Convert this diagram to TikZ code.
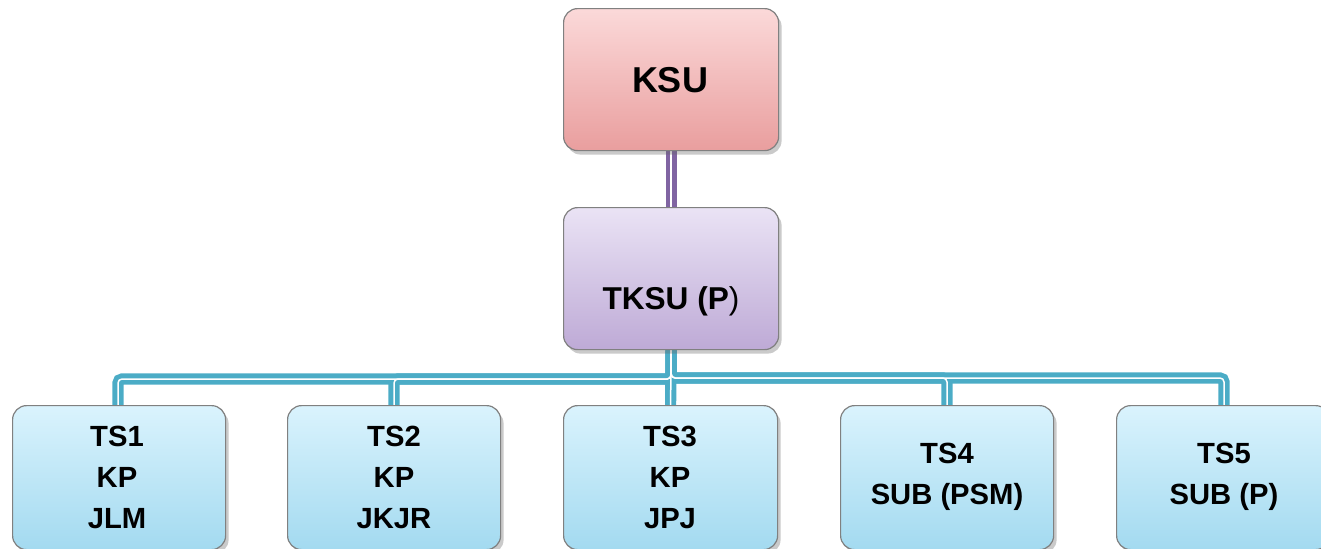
\documentclass[tikz,border=0pt]{standalone}
\usepackage{fontspec}
\setmainfont{Liberation Sans}
\usetikzlibrary{shadows,backgrounds}
\definecolor{bord}{HTML}{808080}
\definecolor{redtop}{HTML}{FBD9D9}
\definecolor{redbot}{HTML}{E99E9E}
\definecolor{purtop}{HTML}{EAE3F5}
\definecolor{purbot}{HTML}{BEAAD6}
\definecolor{bluetop}{HTML}{DAF3FD}
\definecolor{bluebot}{HTML}{A3DAF0}
\definecolor{linkblue}{HTML}{4BACC6}
\definecolor{linkpur}{HTML}{8064A2}
\tikzset{
  box/.style={draw=bord, line width=0.6pt, rounded corners=7pt, minimum width=107pt, minimum height=71pt,
    drop shadow={shadow xshift=1.5pt, shadow yshift=-2pt, opacity=0.35, fill=black!60}},
  redbox/.style={box, top color=redtop, bottom color=redbot},
  purbox/.style={box, top color=purtop, bottom color=purbot},
  bluebox/.style={box, top color=bluetop, bottom color=bluebot},
  lbl/.style={font=\bfseries\fontsize{14.6}{20.5}\selectfont, align=center},
  link/.style={draw=linkblue, line width=5.6pt, rounded corners=2pt},
  plink/.style={draw=linkpur, line width=5.6pt},
  gap/.style={draw=white, line width=0.75pt, rounded corners=2pt},
}
\begin{document}
\begin{tikzpicture}[x=0.5pt,y=-0.5pt]
\useasboundingbox (0,0) rectangle (1321,548);
% boxes
\node[redbox, anchor=north west, minimum width=107.5pt, minimum height=71pt] (ksu) at (563,8) {};
\node[purbox, anchor=north west, minimum width=107.5pt, minimum height=71pt] (tksu) at (563,207) {};
\node[bluebox, anchor=north west, minimum width=106.5pt, minimum height=72pt] (ts1) at (12,405) {};
\node[bluebox, anchor=north west, minimum width=106.5pt, minimum height=72pt] (ts2) at (287,405) {};
\node[bluebox, anchor=north west, minimum width=107pt, minimum height=72pt] (ts3) at (563,405) {};
\node[bluebox, anchor=north west, minimum width=106.5pt, minimum height=72pt] (ts4) at (840,405) {};
\node[bluebox, anchor=north west, minimum width=106.5pt, minimum height=72pt] (ts5) at (1116,405) {};
% bus coordinates
\coordinate (b1) at (118,379);
\coordinate (b2) at (394,379);
\coordinate (b4) at (947,378);
\coordinate (b5) at (1224,378);
% links behind boxes
\begin{scope}[on background layer]
\draw[plink] (ksu.south) -- (tksu.north);
\draw[link] (tksu.south) |- (b1) -- (b1 |- ts1.north);
\draw[link] (tksu.south) |- (b2) -- (b2 |- ts2.north);
\draw[link] (tksu.south) -- (ts3.north);
\draw[link] (tksu.south) |- (b4) -- (b4 |- ts4.north);
\draw[link] (tksu.south) |- (b5) -- (b5 |- ts5.north);
\begin{scope}[xshift=-1.1pt]
\draw[gap] (ksu.south) -- (tksu.north);
\draw[gap] (tksu.south) -- (ts3.north);
\end{scope}
\begin{scope}[xshift=-1.1pt, yshift=1.1pt]
\draw[gap] (tksu.south) |- (b1) -- (b1 |- ts1.north);
\draw[gap] (tksu.south) |- (b2) -- (b2 |- ts2.north);
\end{scope}
\begin{scope}[xshift=-1.1pt, yshift=-1.1pt]
\draw[gap] (tksu.south) |- (b4) -- (b4 |- ts4.north);
\draw[gap] (tksu.south) |- (b5) -- (b5 |- ts5.north);
\end{scope}
\end{scope}
% labels
\node[font=\bfseries\fontsize{18}{22}\selectfont] (ksut) at (670,80) {KSU};
\node[lbl, font=\bfseries\fontsize{15.8}{20}\selectfont] (tksut) at (671,301) {TKSU (P\textmd{)}};
\node[lbl] (t1) at (117,477) {TS1\\KP\\JLM};
\node[lbl] (t2) at (394,477) {TS2\\KP\\JKJR};
\node[lbl] (t3) at (670,477) {TS3\\KP\\JPJ};
\node[lbl] (t4) at (947,477) {TS4\\SUB (PSM)};
\node[lbl] (t5) at (1224,477) {TS5\\SUB (P)};
\end{tikzpicture}
\end{document}
